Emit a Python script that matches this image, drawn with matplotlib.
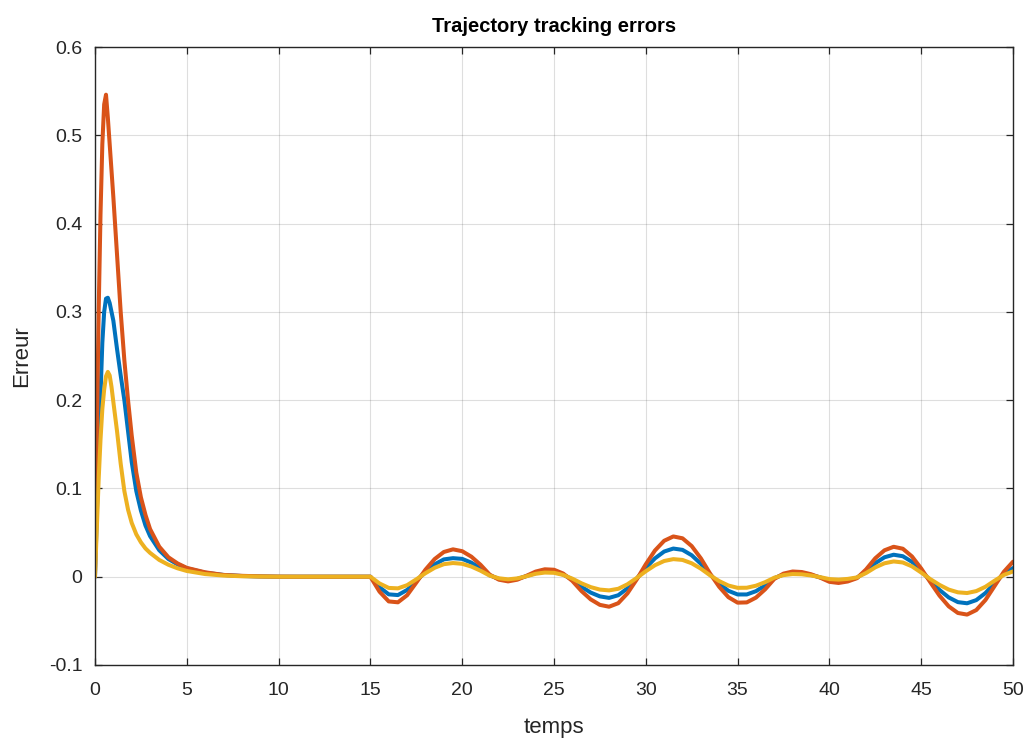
import matplotlib
matplotlib.use("Agg")
import matplotlib.pyplot as plt

plt.rcParams['font.family'] = ['Liberation Sans', 'DejaVu Sans']

# time samples (s)
t = [0, 0.1, 0.2, 0.3, 0.4, 0.5, 0.6, 0.7, 0.8, 0.9, 1.0, 1.2, 1.4, 1.6, 1.8,
     2.0, 2.25, 2.5, 2.75, 3.0, 3.5, 4.0, 4.5, 5.0, 6, 7, 8, 9, 10, 11, 12, 13, 14,
     15.0, 15.5, 16.0, 16.5, 17.0, 17.5, 18.0, 18.5, 19.0, 19.5, 20.0, 20.5, 21.0,
     21.5, 22.0, 22.5, 23.0, 23.5, 24.0, 24.5, 25.0, 25.5, 26.0, 26.5, 27.0, 27.5,
     28.0, 28.5, 29.0, 29.5, 30.0, 30.5, 31.0, 31.5, 32.0, 32.5, 33.0, 33.5, 34.0,
     34.5, 35.0, 35.5, 36.0, 36.5, 37.0, 37.5, 38.0, 38.5, 39.0, 39.5, 40.0, 40.5,
     41.0, 41.5, 42.0, 42.5, 43.0, 43.5, 44.0, 44.5, 45.0, 45.5, 46.0, 46.5, 47.0,
     47.5, 48.0, 48.5, 49.0, 49.5, 50.0]

err_blue = [0, 0.07, 0.14, 0.205, 0.265, 0.30, 0.315, 0.316, 0.31, 0.30, 0.29,
            0.258, 0.228, 0.20, 0.165, 0.13, 0.097, 0.075, 0.058, 0.046, 0.030,
            0.020, 0.014, 0.0095, 0.0045, 0.002, 0.0008, 0.0003, 0, 0, 0, 0, 0,
            0, -0.012, -0.020, -0.0208, -0.015, -0.0048, 0.0056, 0.014, 0.0196,
            0.021, 0.0202, 0.0159, 0.0095, 0.0016, -0.0025, -0.004, -0.0025,
            0.0007, 0.0041, 0.0059, 0.0055, 0.0025, -0.0034, -0.0114, -0.018,
            -0.0223, -0.024, -0.021, -0.0132, -0.0023, 0.0099, 0.0208, 0.0285,
            0.0319, 0.0304, 0.0243, 0.0146, 0.0025, -0.0079, -0.016, -0.0201,
            -0.0201, -0.0164, -0.0099, -0.0017, 0.0026, 0.0044, 0.0039, 0.002,
            -0.0008, -0.0041, -0.005, -0.0038, -0.0012, 0.006, 0.0153, 0.022,
            0.0249, 0.0232, 0.0168, 0.0068, -0.0045, -0.015, -0.0235, -0.0288,
            -0.0301, -0.0265, -0.0185, -0.0074, 0.0035, 0.0098]

err_orange = [0, 0.16, 0.30, 0.41, 0.49, 0.535, 0.546, 0.52, 0.49, 0.46, 0.43,
              0.365, 0.30, 0.245, 0.20, 0.16, 0.118, 0.09, 0.07, 0.054, 0.034,
              0.022, 0.015, 0.010, 0.005, 0.002, 0.001, 0.0004, 0.0001, 0, 0, 0, 0,
              0, -0.017, -0.028, -0.029, -0.021, -0.0067, 0.008, 0.020, 0.028,
              0.031, 0.0289, 0.0227, 0.0135, 0.0023, -0.0034, -0.0053, -0.0034,
              0.001, 0.0058, 0.0084, 0.0079, 0.0036, -0.0048, -0.0163, -0.0257,
              -0.0319, -0.034, -0.030, -0.0189, -0.0033, 0.0141, 0.0297, 0.0407,
              0.0456, 0.0435, 0.0347, 0.0208, 0.0036, -0.0115, -0.0232, -0.0294,
              -0.0291, -0.0237, -0.0143, -0.0025, 0.0035, 0.0059, 0.0053, 0.0028,
              -0.0011, -0.0058, -0.0071, -0.0054, -0.0017, 0.0083, 0.0209, 0.0299,
              0.0339, 0.0317, 0.0229, 0.0093, -0.0064, -0.0215, -0.0336, -0.0411,
              -0.0429, -0.0378, -0.0264, -0.0105, 0.0055, 0.017]

err_yellow = [0, 0.055, 0.11, 0.155, 0.19, 0.212, 0.227, 0.232, 0.228, 0.215,
              0.198, 0.165, 0.128, 0.097, 0.076, 0.061, 0.048, 0.039, 0.032,
              0.027, 0.019, 0.0135, 0.0095, 0.0065, 0.003, 0.0013, 0.0005, 0.0002,
              0, 0, 0, 0, 0,
              0, -0.0077, -0.0127, -0.0132, -0.0096, -0.003, 0.004, 0.0101,
              0.0142, 0.0155, 0.0146, 0.0115, 0.0068, 0.0012, -0.0018, -0.003,
              -0.0019, 0.0005, 0.0033, 0.0047, 0.0044, 0.002, -0.0022, -0.0075,
              -0.0118, -0.0146, -0.0155, -0.0137, -0.0086, -0.0015, 0.0062,
              0.013, 0.0178, 0.0199, 0.019, 0.0152, 0.0091, 0.0016, -0.005,
              -0.01, -0.0126, -0.0125, -0.0102, -0.0062, -0.0011, 0.0018, 0.003,
              0.0027, 0.0014, -0.0005, -0.0027, -0.0033, -0.0025, -0.0008, 0.0042,
              0.0106, 0.0152, 0.0173, 0.0161, 0.0117, 0.0047, -0.0028, -0.0093,
              -0.0146, -0.0177, -0.0185, -0.0163, -0.0114, -0.0045, 0.002, 0.006]

x_ticks = [0, 5, 10, 15, 20, 25, 30, 35, 40, 45, 50]
y_ticks = [-0.1, 0, 0.1, 0.2, 0.3, 0.4, 0.5, 0.6]
y_labels = ['-0.1', '0', '0.1', '0.2', '0.3', '0.4', '0.5', '0.6']

dark = (0.15, 0.15, 0.15)

fig = plt.figure(figsize=(10.28, 7.43), dpi=100)
ax = fig.add_axes([0.0924, 0.105, 0.893, 0.8317])

line_kw = dict(lw=2.9, solid_joinstyle='round', solid_capstyle='round')
ax.plot(t, err_blue, color=(0, 0.447, 0.741), **line_kw)
ax.plot(t, err_orange, color=(0.85, 0.325, 0.098), **line_kw)
ax.plot(t, err_yellow, color=(0.929, 0.694, 0.125), **line_kw)

ax.set_xlim(0, 50)
ax.set_ylim(-0.1, 0.6)
ax.set_xticks(x_ticks)
ax.set_xticklabels([str(v) for v in x_ticks])
ax.set_yticks(y_ticks)
ax.set_yticklabels(y_labels)

ax.grid(True, color=dark, alpha=0.15, lw=0.8)
ax.set_axisbelow(True)
ax.tick_params(direction='in', length=5, width=0.9, colors=dark,
               labelsize=14, top=True, right=True, labeltop=False, labelright=False)
ax.tick_params(axis='x', pad=12)
ax.tick_params(axis='y', pad=9)
for s in ax.spines.values():
    s.set_color(dark)
    s.set_linewidth(1.0)

ax.set_xlabel('temps', fontsize=16, color=dark, labelpad=13)
ax.set_ylabel('Erreur', fontsize=16, color=dark, labelpad=12)
ax.set_title('Trajectory tracking errors', fontsize=14.5, fontweight='bold', pad=11)

fig.savefig('out.png', dpi=100)
